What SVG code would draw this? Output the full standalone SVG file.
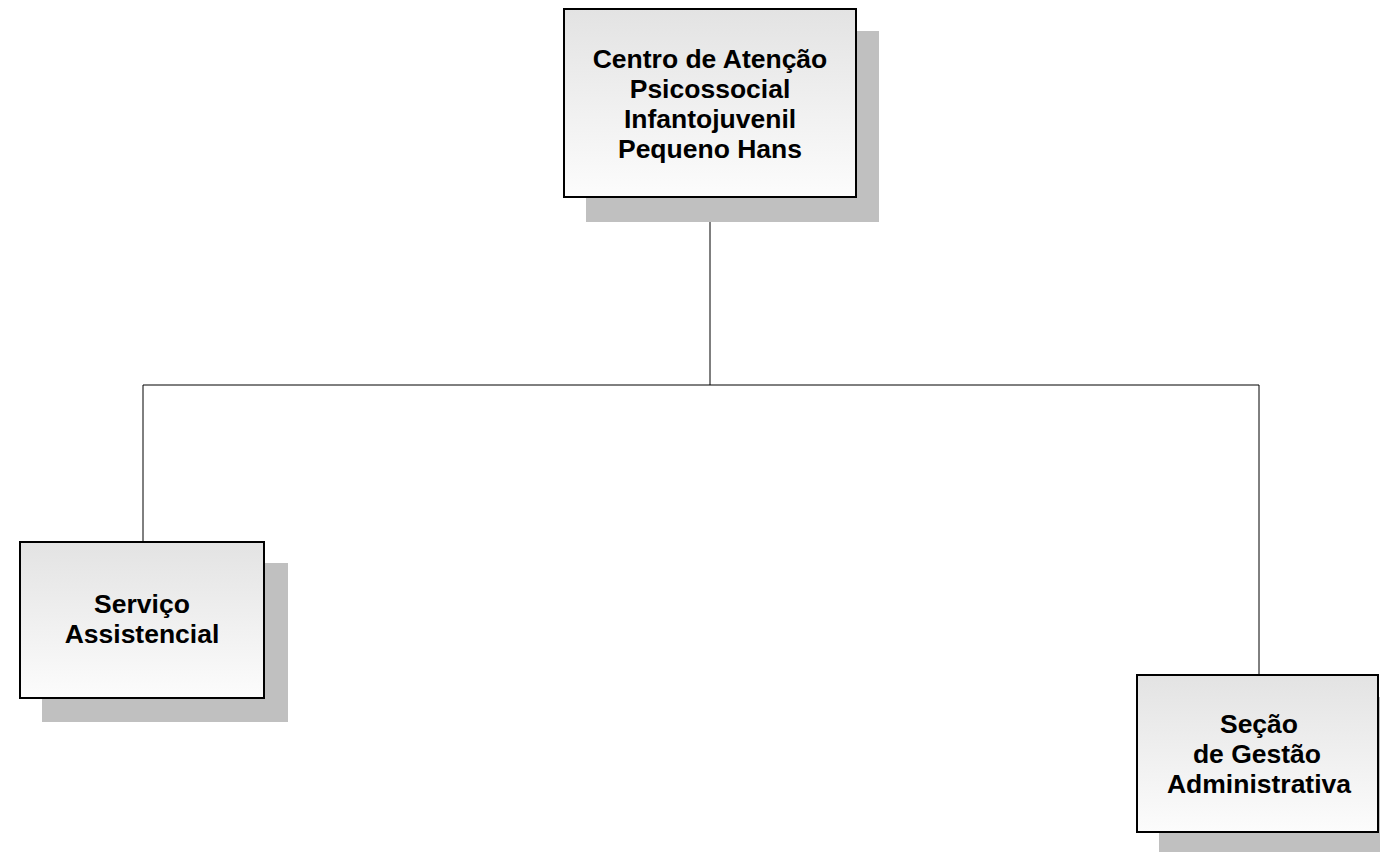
<svg xmlns="http://www.w3.org/2000/svg" width="1380" height="852" viewBox="0 0 1380 852">
<defs>
<linearGradient id="g" x1="0" y1="0" x2="0" y2="1">
<stop offset="0" stop-color="#e3e3e3"/>
<stop offset="1" stop-color="#fcfcfc"/>
</linearGradient>
</defs>
<style>
.shadow{fill:#c0c0c0;stroke:none}
.box{fill:url(#g);stroke:#000;stroke-width:2}
.t{font-family:"Liberation Sans",Arial,sans-serif;font-weight:bold;font-size:26.5px;fill:#000;text-anchor:middle}
.c{fill:none;stroke:#000;stroke-width:1}
</style>
<rect width="1380" height="852" fill="#fff"/>
<g id="connectors">
<line class="c" x1="710" y1="197" x2="710" y2="385"/>
<line class="c" x1="143" y1="385" x2="1259" y2="385"/>
<line class="c" x1="143" y1="385" x2="143" y2="542"/>
<line class="c" x1="1259" y1="385" x2="1259" y2="675"/>
</g>
<g id="node-centro">
<rect class="shadow" x="586" y="31" width="293" height="191"/>
<rect class="box" x="564" y="9" width="292" height="188"/>
<text class="t" x="710" y="68">Centro de Atenção</text>
<text class="t" x="710" y="98">Psicossocial</text>
<text class="t" x="710" y="128">Infantojuvenil</text>
<text class="t" x="710" y="158">Pequeno Hans</text>
</g>
<g id="node-servico">
<rect class="shadow" x="42" y="563" width="246" height="159"/>
<rect class="box" x="20" y="542" width="244" height="156"/>
<text class="t" x="142" y="613">Serviço</text>
<text class="t" x="142" y="643">Assistencial</text>
</g>
<g id="node-secao">
<rect class="shadow" x="1159" y="697" width="240" height="160"/>
<rect class="box" x="1137" y="675" width="241" height="157"/>
<text class="t" x="1259" y="733">Seção</text>
<text class="t" x="1257" y="763">de Gestão</text>
<text class="t" x="1259" y="793">Administrativa</text>
</g>
</svg>
